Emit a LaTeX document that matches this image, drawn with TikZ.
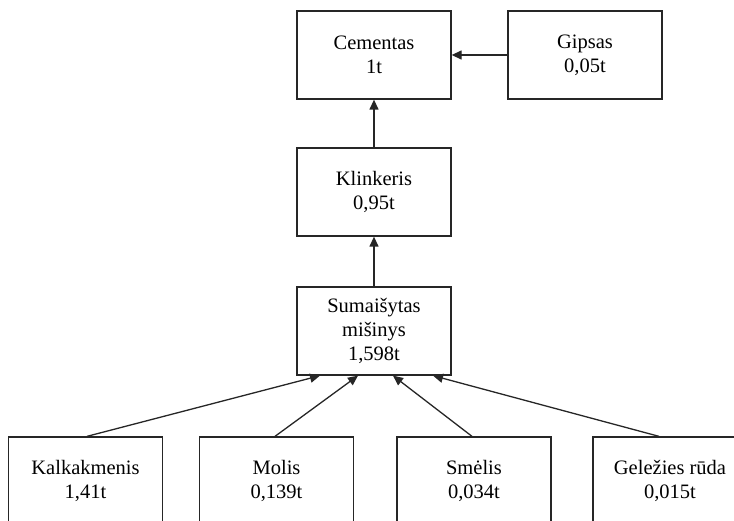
\documentclass[tikz,border=0pt]{standalone}
\usepackage{fontspec}
\setmainfont{Liberation Serif}
\usetikzlibrary{arrows.meta}

\tikzset{
  box/.style={draw=black!85, line width=1.3pt, minimum width=154pt, minimum height=88pt,
    inner sep=0pt, align=center, font=\fontsize{20.5}{24}\selectfont},
  flow/.style={draw=black!85, line width=1.3pt, -{Triangle[length=10pt,width=9pt]}}
}

\begin{document}
\begin{tikzpicture}[x=1pt,y=-1pt]
  \useasboundingbox (0,0) rectangle (734,521);
  \clip (0,0) rectangle (734,521);

  % upper chain
  \node[box] (cem) at (374,55)  {Cementas\\1t};
  \node[box] (gip) at (585,55)  {Gipsas\\0,05t};
  \node[box] (kli) at (374,192) {Klinkeris\\0,95t};
  \node[box] (mix) at (374,331) {Sumaišytas\\mišinys\\1,598t};

  % raw materials
  \node[box] (kal) at (85.5,481) {Kalkakmenis\\1,41t};
  \node[box] (mol) at (276.5,481) {Molis\\0,139t};
  \node[box] (sme) at (474,481) {Smėlis\\0,034t};
  \node[box] (gel) at (670,481) {Geležies rūda\\0,015t};

  % entry points on the mixture box
  \coordinate (m1) at ([xshift=-54pt]mix.south);
  \coordinate (m2) at ([xshift=-16pt]mix.south);
  \coordinate (m3) at ([xshift=19pt]mix.south);
  \coordinate (m4) at ([xshift=59pt]mix.south);
  \coordinate (g0) at ([xshift=-11pt]gel.north);

  \draw[flow] (gip.west) -- (cem.east);
  \draw[flow] (kli.north) -- (cem.south);
  \draw[flow] (mix.north) -- (kli.south);
  \draw[flow] ([xshift=1.5pt]kal.north) -- (m1);
  \draw[flow] ([xshift=-1.5pt]mol.north) -- (m2);
  \draw[flow] ([xshift=-2pt]sme.north) -- (m3);
  \draw[flow] (g0) -- (m4);
\end{tikzpicture}
\end{document}
